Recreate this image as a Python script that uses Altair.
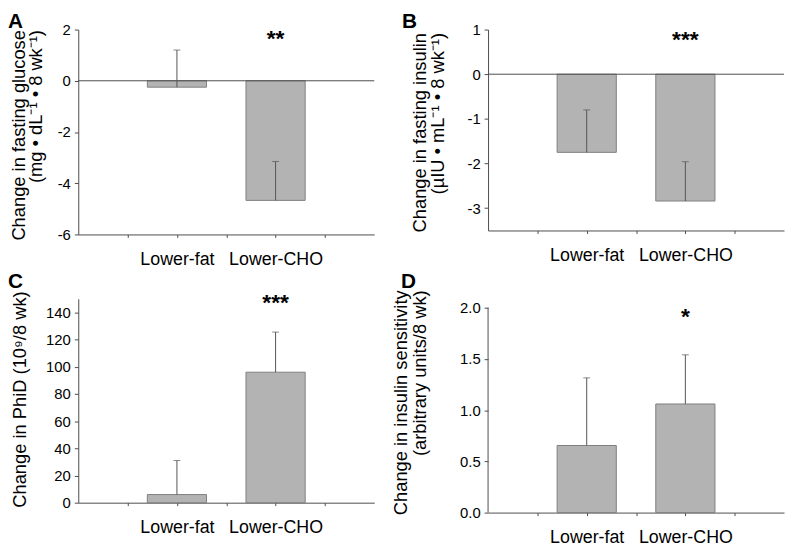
import altair as alt
import pandas as pd

FONT = "Liberation Sans"
AX = "#4d4d4d"

categories = ["Lower-fat", "Lower-CHO"]
slot_ticks = [0.5, 1, 1.5, 2, 2.5]

glucose_mean = [-0.25, -4.67]
glucose_sem = [1.45, 1.52]
glucose_stars = ["", "**"]
glucose_ticks = [-6, -4, -2, 0, 2]
glucose_domain = [-6, 2]

insulin_mean = [-1.75, -2.84]
insulin_sem = [0.95, 0.88]
insulin_stars = ["", "***"]
insulin_ticks = [-3, -2, -1, 0, 1]
insulin_domain = [-3.5, 1]

phid_mean = [6.0, 96.0]
phid_sem = [25.0, 29.5]
phid_stars = ["", "***"]
phid_ticks = [0, 20, 40, 60, 80, 100, 120, 140]
phid_domain = [0, 150]

sens_mean = [0.655, 1.06]
sens_sem = [0.66, 0.48]
sens_stars = ["", "*"]
sens_ticks = [0.0, 0.5, 1.0, 1.5, 2.0]
sens_domain = [0, 2.087]

label_expr = " : ".join(
    f"datum.value == {i + 1} ? '{c}'" for i, c in enumerate(categories)
) + " : ''"
minus_fix = "replace(datum.label, '\u2212', '-')"


def panel(letter, means, sems, stars, ydomain, yticks, yfmt, title, title_x, title_y,
          title_align, title_lh, star_dy, lab_x, lab_y, zero_line, w, h,
          own_domain_line=False):
    df = pd.DataFrame({"group": categories, "mean": means, "sem": sems, "star": stars})
    xs = alt.Scale(domain=[0, 3], nice=False, zero=False)
    ys = alt.Scale(domain=ydomain, nice=False, zero=False)
    base = (
        alt.Chart(df)
        .transform_window(idx="row_number()")
        .transform_calculate(
            upper="datum.mean + datum.sem",
            left="datum.idx - 0.3",
            right="datum.idx + 0.3",
            zero="0",
            top=str(ydomain[1]),
        )
    )
    xaxis = alt.Axis(
        values=slot_ticks, labelExpr=label_expr, title=None, grid=False,
        tickSize=3, tickColor=AX, domainColor=AX, labelFontSize=18, labelFont=FONT,
        labelColor="black", labelPadding=13, labelOverlap=False, labelFlush=False,
        labelAngle=0,
    )
    yaxis = alt.Axis(
        values=yticks, format=yfmt, labelExpr=minus_fix, title=title,
        titleFontSize=18.5, titleFont=FONT,
        titleFontWeight="normal", titleColor="black", titleAngle=270,
        titleAlign=title_align, titleBaseline="alphabetic", titleX=title_x,
        titleY=title_y, titleLineHeight=title_lh, grid=False, tickSize=4,
        labelPadding=4, labelFontSize=15, labelFont=FONT, labelColor="black",
        domainColor=AX, domain=not own_domain_line,
        tickColor=AX, labelFlush=False, labelOverlap=False,
    )

    def X(f):
        return alt.X(f, scale=xs, axis=xaxis)

    def Y(f):
        return alt.Y(f, scale=ys, axis=yaxis)

    bars = base.mark_bar(fill="#b3b3b3", stroke="#808080", strokeWidth=1).encode(
        x=X("left:Q"), x2="right:Q", y=Y("mean:Q"), y2="zero:Q",
    )
    err = base.mark_rule(color="#555555", strokeWidth=1).encode(
        x=X("idx:Q"), y=Y("mean:Q"), y2="upper:Q",
    )
    caps = base.mark_tick(orient="horizontal", size=7, thickness=1, color="#555555").encode(
        x=X("idx:Q"), y=Y("upper:Q"),
    )
    star = base.mark_text(
        baseline="top", align="center", fontSize=23, fontWeight="bold", font=FONT,
        color="black", dy=star_dy,
    ).encode(x=X("idx:Q"), y=Y("top:Q"), text="star:N")
    lab = alt.Chart(pd.DataFrame({"panel": [letter]})).mark_text(
        align="left", baseline="top", fontSize=21, fontWeight="bold", font=FONT,
        color="black",
    ).encode(text="panel:N", x=alt.value(lab_x), y=alt.value(lab_y))
    layers = [bars]
    if zero_line:
        zl = alt.Chart(pd.DataFrame({"z": [0]})).mark_rule(color=AX, strokeWidth=1).encode(
            y=Y("z:Q")
        )
        layers.append(zl)
    if own_domain_line:
        dl = alt.Chart(pd.DataFrame({"lo": [yticks[0]], "hi": [yticks[-1]]})).mark_rule(
            color=AX, strokeWidth=1
        ).encode(x=alt.value(0), y=Y("lo:Q"), y2="hi:Q")
        layers.append(dl)
    layers += [err, caps, star, lab]
    return alt.layer(*layers).properties(width=w, height=h)


A = panel("A", glucose_mean, glucose_sem, glucose_stars, glucose_domain, glucose_ticks, "d",
          ["Change in fasting glucose", "(mg \u2022 dL\u207b\u00b9 \u2022 8 wk\u207b\u00b9)"],
          -54, 0, "right", 17, -1, -71, -19, True, 299, 207)
B = panel("B", insulin_mean, insulin_sem, insulin_stars, insulin_domain, insulin_ticks, "d",
          ["Change in fasting insulin", "(\u00b5IU \u2022 mL\u207b\u00b9 \u2022 8 wk\u207b\u00b9)"],
          -63, 3, "right", 18, 0, -87, -19, True, 299, 203)
C = panel("C", phid_mean, phid_sem, phid_stars, phid_domain, phid_ticks, "d",
          "Change in PhiD (10\u2079/8 wk)",
          -53, -8, "right", 19, -7, -71, -27.5, False, 299, 206)
D = panel("D", sens_mean, sens_sem, sens_stars, sens_domain, sens_ticks, ".1f",
          ["Change in insulin sensitivity", "(arbitrary units/8 wk)"],
          -82, -9, "right", 19, 7, -88, -27.5, False, 299, 216, own_domain_line=True)

chart = (
    alt.concat(A, B, C, D, columns=2, bounds="flush",
               spacing=alt.RowColnumber(row=65, column=115))
    .properties(
        padding={"left": 71, "top": 19, "right": 715, "bottom": 521},
        autosize=alt.AutoSizeParams(type="none"),
    )
    .configure_view(stroke=None)
)

chart.save("out.html", embed_options={"renderer": "svg", "actions": False})
